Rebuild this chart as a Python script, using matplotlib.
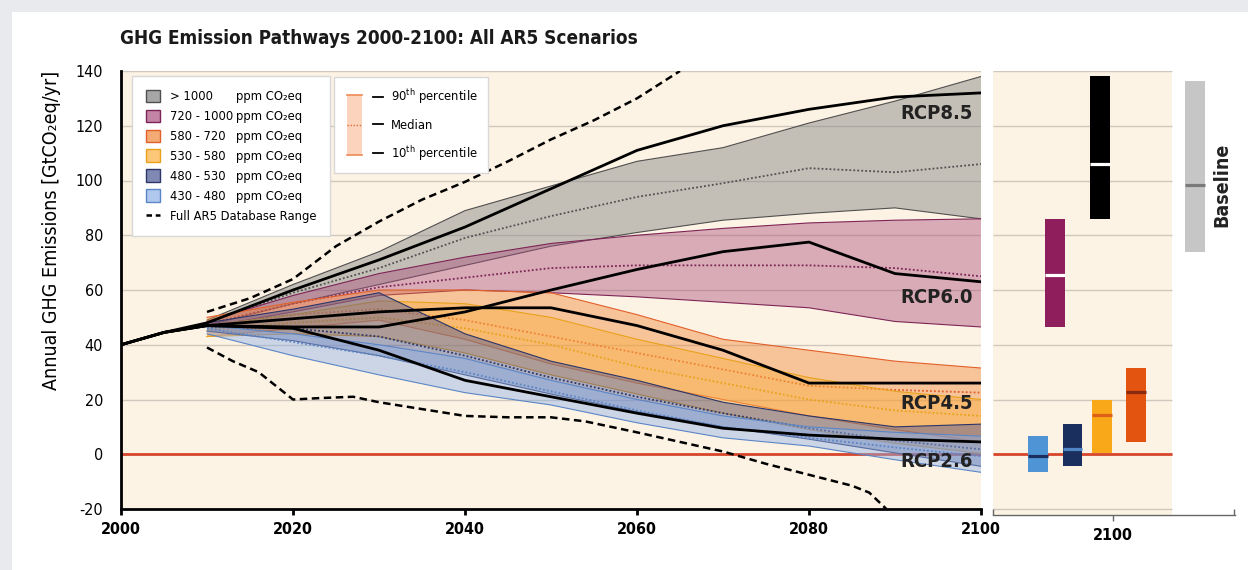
import matplotlib
matplotlib.use("Agg")
import matplotlib.pyplot as plt
from matplotlib.patches import Patch, Rectangle
from matplotlib.lines import Line2D
from matplotlib.legend_handler import HandlerBase
from matplotlib.colors import to_rgba

# ---------------- data ----------------
band_years = [2010, 2020, 2030, 2040, 2050, 2060, 2070, 2080, 2090, 2100]
cat_labels = ["> 1000", "720 - 1000", "580 - 720", "530 - 580", "480 - 530", "430 - 480"]

gt1000_p90 = [49, 62, 74, 89, 98, 107, 112, 121, 129, 138]
gt1000_med = [48, 59, 68, 79, 87, 94, 99, 104.5, 103, 106]
gt1000_p10 = [47, 55, 62, 69, 76, 81, 85.5, 88, 90, 86]

c720_p90 = [48.5, 58, 66, 72, 77, 80, 82.5, 84.5, 85.5, 86]
c720_med = [47.5, 55, 61, 64.5, 68, 69, 69, 69, 68, 65]
c720_p10 = [46.5, 52, 58, 60, 59, 57.5, 55.5, 53.5, 48.5, 46.5]

c580_p90 = [50, 55.5, 60, 60, 59, 51, 42, 38, 34, 31.5]
c580_med = [47, 51, 53, 49, 43, 37, 31, 25, 23.5, 22.5]
c580_p10 = [43, 46, 49, 42, 33, 26, 20, 14, 9, 4.5]

c530_p90 = [47, 51, 56, 55, 50, 42, 35, 28, 23, 20]
c530_med = [45.5, 48, 50, 46, 40, 32, 26, 20, 16, 14]
c530_p10 = [43, 44, 43, 37, 29, 22, 15, 9, 4, 0.3]

c480_p90 = [48, 53, 59, 44, 34, 27, 19, 14, 10, 11]
c480_med = [46.5, 46, 43, 36, 28, 21, 15, 9.5, 5, 1.8]
c480_p10 = [45, 41.5, 36, 29, 22, 15.5, 10, 5.5, 0.5, -4.4]

c430_p90 = [47, 44, 40, 35, 27, 20, 14, 10, 8, 6.6]
c430_med = [46, 41, 36, 30, 23, 16, 10, 6, 2.5, -0.7]
c430_p10 = [44, 36, 29, 22.5, 18, 11.5, 6, 3, -2, -6.6]

rcp_years = [2000, 2005, 2010, 2020, 2030, 2040, 2050, 2060, 2070, 2080, 2090, 2100]
rcp85 = [40, 44.5, 48, 60, 71, 83, 97, 111, 120, 126, 130.5, 132]
rcp60 = [40, 44.5, 47, 46.5, 46.5, 52, 60, 67.5, 74, 77.5, 66, 63]
rcp45 = [40, 44.5, 47, 49.5, 52, 53.5, 53.5, 47, 38, 26, 26, 26]
rcp26 = [40, 44.5, 47, 46, 38, 27, 21, 15, 9.5, 7, 5.5, 4.5]
rcp_labels = ["RCP8.5", "RCP6.0", "RCP4.5", "RCP2.6"]

db_upper_years = [2010, 2012, 2015, 2020, 2025, 2030, 2035, 2040, 2045, 2050, 2055, 2060, 2065]
db_upper = [52, 54, 57, 64, 76, 85, 93, 99.5, 107, 115, 122, 130, 140]
db_lower_years = [2010, 2013, 2016, 2020, 2023, 2027, 2030, 2035, 2040, 2045, 2050, 2054,
                  2060, 2065, 2070, 2075, 2080, 2085, 2087, 2089]
db_lower = [39, 34, 30, 20, 20.5, 21, 19, 16.5, 14, 13.5, 13.5, 12,
            8, 4.5, 1, -3.5, -7.5, -11.5, -14, -20]

bar_cats = ["430-480", "480-530", "530-580", "580-720", "720-1000", ">1000", "Baseline"]
bar_low = [-6.6, -4.4, 0.3, 4.4, 46.4, 85.8, 73.7]
bar_high = [6.6, 11, 19.7, 31.4, 86, 138, 136.5]
bar_med = [-0.7, 1.8, 14.2, 22.6, 65.3, 106, 98.5]

# ---------------- style ----------------
W, H = 1248, 570
CREAM = "#fdf3e4"
GRID = "#cfc8be"
RED = "#d8462c"

band_p90 = [gt1000_p90, c720_p90, c580_p90, c530_p90, c480_p90, c430_p90]
band_med = [gt1000_med, c720_med, c580_med, c530_med, c480_med, c430_med]
band_p10 = [gt1000_p10, c720_p10, c580_p10, c530_p10, c480_p10, c430_p10]
band_face = ["#808080", "#a8487a", "#f08232", "#fbb040", "#4b5694", "#8fb1e8"]
band_alpha = [0.45, 0.42, 0.42, 0.45, 0.45, 0.45]
band_edge = ["#505050", "#7d2556", "#e2602a", "#e8a21c", "#2c3668", "#5b86c6"]

rcp_series = [rcp85, rcp60, rcp45, rcp26]
rcp_label_y = [124.3, 57.1, 18.7, -2.5]

bar_x = [2091.3, 2095.3, 2098.7, 2102.7, 2093.3, 2098.5, 2109.5]
bar_w = 2.3
bar_color = ["#4f95d6", "#1b2f5e", "#f9a81a", "#e2540f", "#8e1f5c", "#000000", "#c6c6c6"]
bar_med_color = ["#1b2f5e", "#4f86c8", "#e0601a", "#8a2a10", "white", "white", "#7a7a7a"]

plt.rcParams["font.family"] = ["DejaVu Sans"]
plt.rcParams["font.stretch"] = "condensed"
plt.rcParams["axes.unicode_minus"] = False
plt.rcParams["mathtext.fontset"] = "custom"
plt.rcParams["mathtext.rm"] = "DejaVu Sans"
plt.rcParams["mathtext.it"] = "DejaVu Sans:italic"
plt.rcParams["mathtext.bf"] = "DejaVu Sans:bold"

fig = plt.figure(figsize=(W / 100, H / 100), dpi=100, facecolor="#e9eaee")
fig.add_artist(Rectangle((12 / W, 0), 1, 1 - 12 / H, transform=fig.transFigure,
                         facecolor="white", edgecolor="none", zorder=-5))

# ---------------- main axes ----------------
ax = fig.add_axes([121 / W, 1 - 509 / H, 860 / W, 438 / H])
ax.set_facecolor(CREAM)
ax.set_xlim(2000, 2100)
ax.set_ylim(-20, 140)
ax.set_yticks(range(-20, 141, 20))
ax.set_xticks(range(2000, 2101, 20))
ax.yaxis.grid(True, color=GRID, lw=1.0)
ax.set_axisbelow(True)
for s in ["top", "right"]:
    ax.spines[s].set_visible(False)
for s in ["left", "bottom"]:
    ax.spines[s].set_linewidth(2)
    ax.spines[s].set_color("black")
ax.tick_params(axis="y", length=0, pad=13, labelsize=11.5)
ax.tick_params(axis="x", length=4, width=2, direction="out", pad=5, labelsize=11.5)
for lbl in ax.get_xticklabels():
    lbl.set_fontweight("bold")
ax.set_ylabel("Annual GHG Emissions [GtCO\u2082eq/yr]", fontsize=14)
ax.yaxis.set_label_coords(-(121 - 61) / 860, 0.635)

ax.axhline(0, color=RED, lw=2, zorder=1.5)

for i in range(6):
    z = 2 + i * 0.1
    ax.fill_between(band_years, band_p10[i], band_p90[i],
                    facecolor=to_rgba(band_face[i], band_alpha[i]), edgecolor="none", zorder=z)
    ax.plot(band_years, band_p90[i], color=band_edge[i], lw=0.8, zorder=z + 0.01)
    ax.plot(band_years, band_p10[i], color=band_edge[i], lw=0.8, zorder=z + 0.01)
    ax.plot(band_years, band_med[i], color=band_edge[i], lw=1.3, ls=(0, (1, 1.2)), zorder=z + 0.02)

for ser in rcp_series:
    ax.plot(rcp_years, ser, color="black", lw=2, zorder=5)
ax.plot(db_upper_years, db_upper, color="black", lw=1.8, ls=(0, (3, 1.8)), zorder=5.5)
ax.plot(db_lower_years, db_lower, color="black", lw=1.8, ls=(0, (3, 1.8)), zorder=5.5)

for lab, yv in zip(rcp_labels, rcp_label_y):
    ax.text(2099, yv, lab, ha="right", va="center", fontsize=14.5, fontweight="bold",
            color="#222222", zorder=6)

# legend 1
LFS1 = 9.3
handles1 = [Patch(facecolor=to_rgba(band_face[i], min(band_alpha[i] + 0.25, 1)),
                  edgecolor=band_edge[i], lw=1) for i in range(6)]
handles1.append(Line2D([], [], color="black", lw=1.8, ls=(0, (2.2, 1.5))))
labels1 = cat_labels + ["Full AR5 Database Range"]
leg1 = ax.legend(handles1, labels1, loc="upper left",
                 bbox_to_anchor=((132 - 121) / 860, (509 - 76) / 438),
                 bbox_transform=ax.transAxes, borderaxespad=0, frameon=True,
                 fancybox=False, edgecolor="#d8d8d8", framealpha=1, fontsize=LFS1,
                 handlelength=1.08, handleheight=1.08, handletextpad=0.78,
                 labelspacing=0.5, borderpad=1.05)
leg1.get_frame().set_linewidth(1.0)
leg1.set_zorder(8)
ax.add_artist(leg1)


class ShortDash(HandlerBase):
    def create_artists(self, legend, orig_handle, xdescent, ydescent, width, height, fontsize, trans):
        y = height / 2 - ydescent
        ln = Line2D([width * 0.74 - xdescent, width - xdescent], [y, y], color="black", lw=1.3,
                    transform=trans)
        return [ln]


LFS2 = 9.3
handles2 = [Line2D([], [], color="black") for _ in range(3)]
labels2 = [r"90$^{\mathrm{th}}$ percentile", "Median", r"10$^{\mathrm{th}}$ percentile"]
leg2 = ax.legend(handles2, labels2, loc="upper left",
                 bbox_to_anchor=((334 - 121) / 860, (509 - 77) / 438),
                 bbox_transform=ax.transAxes, borderaxespad=0, frameon=True,
                 fancybox=False, edgecolor="#d8d8d8", framealpha=1, fontsize=LFS2,
                 handlelength=3.0, handletextpad=0.62, labelspacing=0.95, borderpad=0.8,
                 handler_map={Line2D: ShortDash()})
leg2.set_zorder(8)

# ---------------- right panel ----------------
ax2 = fig.add_axes([993 / W, 1 - 515 / H, 242 / W, 444 / H])
ax2.set_xlim(2086.05, 2114.19)
ax2.set_ylim(-20 - 6 / 2.7375, 140)
ax2.patch.set_visible(False)
ax2.axvspan(2086.05, 2106.9, facecolor=CREAM, edgecolor="none", zorder=0)
ax2.hlines(list(range(-20, 141, 20)), 2086.05, 2106.9, colors=GRID, lw=1, zorder=0.5)
ax2.hlines(0, 2086.05, 2106.9, colors=RED, lw=2, zorder=1)
heights = [h - l for h, l in zip(bar_high, bar_low)]
ax2.bar(bar_x, heights, bottom=bar_low, width=bar_w, color=bar_color, zorder=3)
ax2.hlines(bar_med, [x - bar_w / 2 for x in bar_x], [x + bar_w / 2 for x in bar_x],
           colors=bar_med_color, lw=2.3, zorder=4)
ax2.set_yticks([])
for s in ["top", "right", "left"]:
    ax2.spines[s].set_visible(False)
ax2.spines["bottom"].set_linewidth(1)
ax2.spines["bottom"].set_color("#666666")
ax2.set_xticks([2100])
ax2.set_xticklabels(["2100"], fontweight="bold")
ax2.tick_params(axis="x", length=4, width=1, color="#666666", pad=5, labelsize=11.5)
ax2.set_xticks([2086.1, 2114.1], minor=True)
ax2.tick_params(axis="x", which="minor", direction="in", length=4, width=1, color="#666666")
ax2.text(2112.67, 98.5, "Baseline", rotation=90, ha="center", va="center",
         fontsize=14, fontweight="bold", color="#222222")

# title
fig.text(120 / W, 1 - 38 / H, "GHG Emission Pathways 2000-2100: All AR5 Scenarios",
         fontsize=13.6, fontweight="bold", ha="left", va="center", color="#1a1a1a")

# ---------------- legend decorations that need layout ----------------
fig.canvas.draw()
bb1 = leg1.get_window_extent()
for t in leg1.get_texts()[:6]:
    x, y = t.get_transform().transform(t.get_position())
    fig.text((bb1.x0 + 104) / W, y / H, "ppm CO\u2082eq", fontsize=LFS1,
             ha="left", va="baseline", zorder=20)

bb2 = leg2.get_window_extent()
tt = leg2.get_texts()
ys = []
for t in tt:
    e = t.get_window_extent()
    ys.append((e.y0 + e.y1) / 2)
ytop, ymid, ybot = ys[0] + 2, ys[1], ys[2] - 2
x0 = bb2.x0 + 13
bw = 15
fig.add_artist(Rectangle((x0 / W, ybot / H), bw / W, (ytop - ybot) / H, transform=fig.transFigure,
                         facecolor="#fcd4bd", edgecolor="none", zorder=20))
fig.add_artist(Line2D([x0 / W, (x0 + bw) / W], [ytop / H, ytop / H], transform=fig.transFigure,
                      color="#ee8a55", lw=1.2, zorder=21))
fig.add_artist(Line2D([x0 / W, (x0 + bw) / W], [ybot / H, ybot / H], transform=fig.transFigure,
                      color="#ee8a55", lw=1.2, zorder=21))
fig.add_artist(Line2D([x0 / W, (x0 + bw) / W], [ymid / H, ymid / H], transform=fig.transFigure,
                      color="#e06a3a", lw=1.0, ls=(0, (1, 1.2)), zorder=21))

fig.savefig("out.png", dpi=100, facecolor=fig.get_facecolor())
